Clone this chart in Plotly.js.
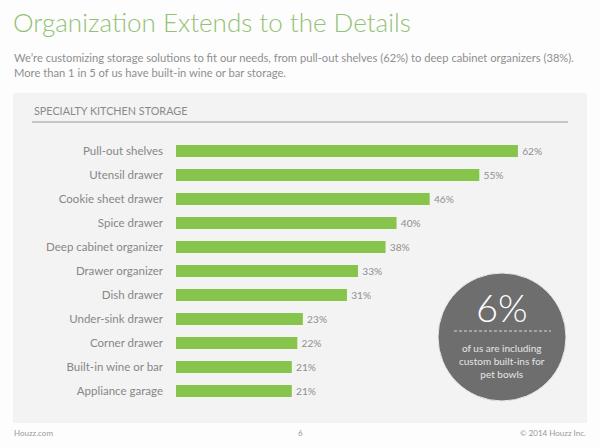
<!DOCTYPE html>
<html><head><meta charset="utf-8">
<script src="https://cdn.plot.ly/plotly-3.0.1.min.js"></script>
<style>html,body{margin:0;padding:0;background:#fdfdfd;}#chart{width:600px;height:448px;}</style>
</head><body><div id="chart"></div>
<script>
var categories = ["Pull-out shelves","Utensil drawer","Cookie sheet drawer","Spice drawer","Deep cabinet organizer","Drawer organizer","Dish drawer","Under-sink drawer","Corner drawer","Built-in wine or bar","Appliance garage"];
var values = [62,55,46,40,38,33,31,23,22,21,21];
var calloutValue = "6%";
var calloutText = "of us are including<br>custom built-ins for<br>pet bowls";

var L = 176, R = 562, T = 139, B = 403;
function px(p){ return (p - L) / (R - L); }
function py(p){ return (B - p) / (B - T); }
var font = "Lato, 'Open Sans', sans-serif";

var trace = {
  type: 'bar', orientation: 'h', x: values, y: categories,
  marker: {color: '#86c44c'}, width: 0.5,
  text: values.map(function(v){return '\u2009' + v + '%';}), textposition: 'outside',
  textfont: {family: font, size: 11, color: '#8f8f8f'}, cliponaxis: false,
  hoverinfo: 'none'
};

var layout = {
  width: 600, height: 448,
  margin: {l: L, r: 600 - R, t: T, b: 448 - B},
  paper_bgcolor: '#fdfdfd', plot_bgcolor: 'rgba(0,0,0,0)',
  showlegend: false, bargap: 0.5,
  xaxis: {range: [0, 70], visible: false, fixedrange: true},
  yaxis: {autorange: 'reversed', showgrid: false, zeroline: false, showline: false, ticks: '',
          ticklabelstandoff: 12, tickfont: {family: font, size: 11.5, color: '#878787'}},
  shapes: [
    {type: 'rect', xref: 'paper', yref: 'paper', x0: px(13), x1: px(587), y0: py(93), y1: py(423),
     fillcolor: '#f3f3f3', line: {width: 0}, layer: 'below'},
    {type: 'line', xref: 'paper', yref: 'paper', x0: px(32), x1: px(568), y0: py(122), y1: py(122),
     line: {color: '#9a9a9a', width: 1}},
    {type: 'circle', xref: 'paper', yref: 'paper', x0: px(438), x1: px(566), y0: py(273), y1: py(401),
     fillcolor: '#6e6e6e', line: {color: '#e8e8e8', width: 1}},
    {type: 'line', xref: 'paper', yref: 'paper', x0: px(454), x1: px(551), y0: py(331), y1: py(331),
     line: {color: '#d8d8d8', width: 1, dash: '3px,2px'}}
  ],
  annotations: [
    {text: 'Organization Extends to the Details', xref: 'paper', yref: 'paper', x: px(11), y: py(22),
     xanchor: 'left', yanchor: 'middle', showarrow: false,
     font: {family: font, size: 26, color: '#93c274', weight: 300}},
    {text: "We’re customizing storage solutions to fit our needs, from pull-out shelves (62%) to deep cabinet organizers (38%).<br>More than 1 in 5 of us have built-in wine or bar storage.",
     xref: 'paper', yref: 'paper', x: px(12), y: py(65), xanchor: 'left', yanchor: 'middle', align: 'left',
     showarrow: false, font: {family: font, size: 11.2, color: '#8f8f8f'}},
    {text: 'SPECIALTY KITCHEN STORAGE', xref: 'paper', yref: 'paper', x: px(32), y: py(110),
     xanchor: 'left', yanchor: 'middle', showarrow: false, font: {family: font, size: 10.8, color: '#8a8a8a'}},
    {text: calloutValue, xref: 'paper', yref: 'paper', x: px(502), y: py(307), xanchor: 'center', yanchor: 'middle',
     showarrow: false, font: {family: font, size: 38, color: '#ffffff', weight: 300}},
    {text: calloutText, xref: 'paper', yref: 'paper', x: px(502), y: py(361), xanchor: 'center', yanchor: 'middle',
     showarrow: false, align: 'center', font: {family: font, size: 10, color: '#e6e6e6'}},
    {text: 'Houzz.com', xref: 'paper', yref: 'paper', x: px(12), y: py(433), xanchor: 'left', yanchor: 'middle',
     showarrow: false, font: {family: font, size: 8, color: '#999999'}},
    {text: '6', xref: 'paper', yref: 'paper', x: px(300), y: py(433), xanchor: 'center', yanchor: 'middle',
     showarrow: false, font: {family: font, size: 8, color: '#999999'}},
    {text: '© 2014 Houzz Inc.', xref: 'paper', yref: 'paper', x: px(588), y: py(433), xanchor: 'right', yanchor: 'middle',
     showarrow: false, font: {family: font, size: 8, color: '#999999'}}
  ]
};
Plotly.newPlot('chart', [trace], layout, {displayModeBar: false, staticPlot: true});
</script></body></html>
